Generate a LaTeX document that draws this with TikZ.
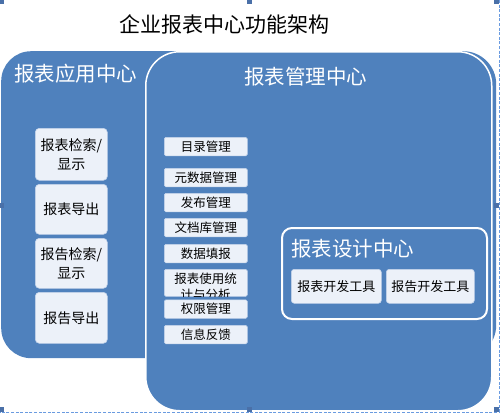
\documentclass[tikz,border=0pt]{standalone}
\usepackage{fontspec}
\setmainfont{Noto Sans CJK SC}
\newfontfamily\cjk{Noto Sans CJK SC}
\definecolor{mainblue}{HTML}{4F81BD}
\definecolor{lightbox}{HTML}{ECF1F9}
\definecolor{boxborder}{HTML}{C3D3EA}
\definecolor{handle}{HTML}{4A70A8}
\definecolor{selline}{HTML}{6A9BE0}
\begin{document}
\begin{tikzpicture}[x=1pt,y=-1pt,
  bigshape/.style={fill=mainblue, draw=none, anchor=north west, inner sep=0pt},
  headtext/.style={text=white, font=\cjk\fontsize{20.5}{24}\selectfont, inner sep=0pt},
  appbox/.style={fill=lightbox, draw=boxborder, line width=0.6pt, rounded corners=4pt,
    anchor=north west, inner sep=0pt, minimum width=72pt, align=center,
    font=\cjk\fontsize{14}{19}\selectfont},
  mgrbox/.style={fill=lightbox, draw=boxborder, line width=0.6pt, rounded corners=1.5pt,
    anchor=north west, inner sep=0pt, minimum width=83pt, minimum height=18.5pt,
    font=\cjk\fontsize{12.5}{16}\selectfont},
  devbox/.style={fill=lightbox, draw=boxborder, line width=0.6pt, rounded corners=3pt,
    anchor=north west, inner sep=0pt, minimum height=34pt,
    font=\cjk\fontsize{13}{16}\selectfont},
  handlebox/.style={fill=handle, draw=none}
]
\useasboundingbox (0,0) rectangle (500,413);

% title
\node[font=\cjk\fontsize{21}{25}\selectfont, inner sep=0pt] (title) at (224,24) {企业报表中心功能架构};

% big shapes
\node[bigshape, rounded corners=30pt, minimum width=300pt, minimum height=307pt] (app) at (1,51) {};
\node[bigshape, rounded corners=33pt, minimum width=300pt, minimum height=307pt] (back) at (196,51) {};
\node[bigshape, rounded corners=34pt, minimum width=346pt, minimum height=359pt,
      draw=white, line width=1.5pt] (mgr) at (145,51) {};

% headings
\node[headtext, anchor=west] (apptitle) at (14,74) {报表应用中心};
\node[headtext] (mgrtitle) at (305.5,77) {报表管理中心};

% application boxes
\node[appbox, minimum height=52pt] (a1) at (35,128) {报表检索/\\显示};
\node[appbox, minimum height=50pt] (a2) at (35,184) {报表导出};
\node[appbox, minimum height=50pt] (a3) at (35,238) {报告检索/\\显示};
\node[appbox, minimum height=51pt] (a4) at (35,292) {报告导出};

% management boxes
\node[mgrbox] (m1) at (164,137) {目录管理};
\node[mgrbox] (m2) at (164,168) {元数据管理};
\node[mgrbox] (m3) at (164,193) {发布管理};
\node[mgrbox] (m4) at (164,218) {文档库管理};
\node[mgrbox] (m5) at (164,244) {数据填报};
\node[mgrbox, minimum height=27pt] (m6) at (164,269) {};
\begin{scope}
  \clip (164,269) rectangle (247,296);
  \node[font=\cjk\fontsize{12.5}{16}\selectfont, align=center, inner sep=0pt, anchor=north] (m6text) at (205.5,272.5) {报表使用统\\计与分析};
\end{scope}
\node[mgrbox] (m7) at (164,299.5) {权限管理};
\node[mgrbox] (m8) at (164,325) {信息反馈};

% design center
\node[bigshape, rounded corners=10pt, minimum width=205pt, minimum height=91pt,
      draw=white, line width=2pt] (design) at (281,227) {};
\node[headtext, anchor=west] (designtitle) at (291,248.5) {报表设计中心};
\node[devbox, minimum width=90pt] (d1) at (291,269) {报表开发工具};
\node[devbox, minimum width=88pt] (d2) at (386,269) {报告开发工具};

% selection frame
\coordinate (selTR) at (499,0);
\coordinate (selBR) at (499,412);
\coordinate (selBL) at (0,412);
\draw[selline, line width=0.8pt, dash pattern=on 3pt off 1.6pt] (selTR) -- (selBR) -- (selBL);
\fill[handlebox] (0,0) rectangle (3.5,3.5);
\fill[handlebox] (246.5,0) rectangle (251.5,3.5);
\fill[handlebox] (494,0) rectangle (499,3.5);
\fill[handlebox] (0,203) rectangle (3.5,208);
\fill[handlebox] (493.5,203) rectangle (498.5,208);
\fill[handlebox] (0,407) rectangle (3.5,412);
\fill[handlebox] (247,407) rectangle (252,412);
\fill[handlebox] (494,407) rectangle (499,411.5);
\end{tikzpicture}
\end{document}
